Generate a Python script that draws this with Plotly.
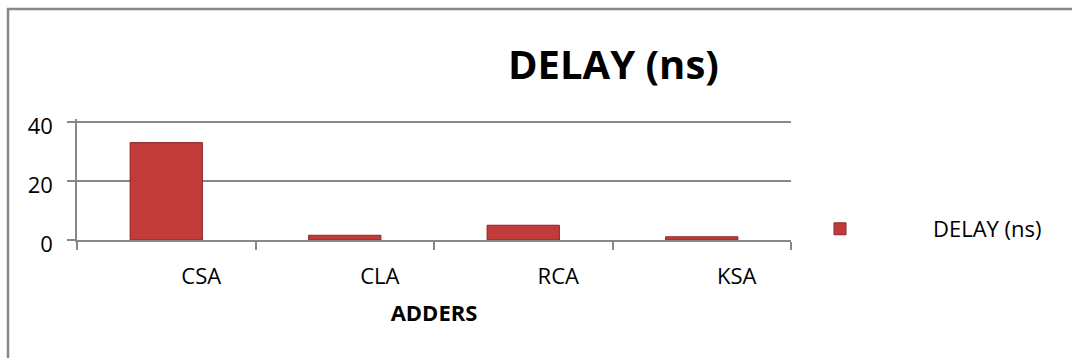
import plotly.graph_objects as go

categories = ["CSA", "CLA", "RCA", "KSA"]
delay_ns = [33.0, 1.6, 5.0, 1.1]
series_name = "DELAY (ns)"
y_ticks = [0, 20, 40]

W, H = 1072, 358
ML, MR, MT, MB = 77, 281, 119, 118
PW = W - ML - MR
PH = H - MT - MB


def px_x(px):
    return (px - ML) / PW


def px_y(py):
    return (H - MB - py) / PH


FONT = "Open Sans"
GRAY = "#878787"

fig = go.Figure()
fig.add_trace(go.Bar(
    x=categories, y=delay_ns, name=series_name,
    width=0.405,
    marker=dict(color="#C23B3B", line=dict(color="#8A2828", width=1)),
    showlegend=True,
))

fig.update_layout(
    width=W, height=H,
    margin=dict(l=ML, r=MR, t=MT, b=MB, autoexpand=False),
    paper_bgcolor="white", plot_bgcolor="white",
    font=dict(family=FONT, size=22, color="black"),
    legend=dict(
        xref="container", yref="container",
        x=747 / W, y=1 - 229 / H, xanchor="left", yanchor="middle",
        itemwidth=176, bgcolor="rgba(0,0,0,0)",
        font=dict(family=FONT, size=22, color="black"),
    ),
    xaxis=dict(
        type="category", range=[-0.5, 3.5],
        showline=True, linecolor=GRAY, linewidth=1.5,
        ticks="outside", ticklen=8, tickcolor=GRAY, tickwidth=1.5,
        tickson="boundaries",
        ticklabelshift=35, ticklabelstandoff=16,
        showgrid=False,
        title=dict(text="<b>ADDERS</b>", font=dict(family=FONT, size=22, color="black"), standoff=16),
    ),
    yaxis=dict(
        range=[0, 41], tickvals=y_ticks,
        showline=True, linecolor=GRAY, linewidth=1.5,
        ticks="outside", ticklen=8, tickcolor=GRAY, tickwidth=1.5,
        showgrid=True, gridcolor=GRAY, gridwidth=1.5,
        zeroline=False, ticklabelstandoff=10, ticklabelshift=4,
    ),
    shapes=[dict(
        type="rect", xref="paper", yref="paper",
        x0=px_x(8), x1=px_x(1090), y0=px_y(380), y1=px_y(9),
        line=dict(color=GRAY, width=2.5), fillcolor="rgba(0,0,0,0)", layer="below",
    )],
    annotations=[dict(
        text="<b>DELAY (ns)</b>", xref="paper", yref="paper",
        x=px_x(613), y=px_y(64), xanchor="center", yanchor="middle",
        showarrow=False, font=dict(family=FONT, size=40, color="black"),
    )],
)

fig.write_html("out.html", config={"displayModeBar": False},
               post_script="document.body.style.margin='0';")
